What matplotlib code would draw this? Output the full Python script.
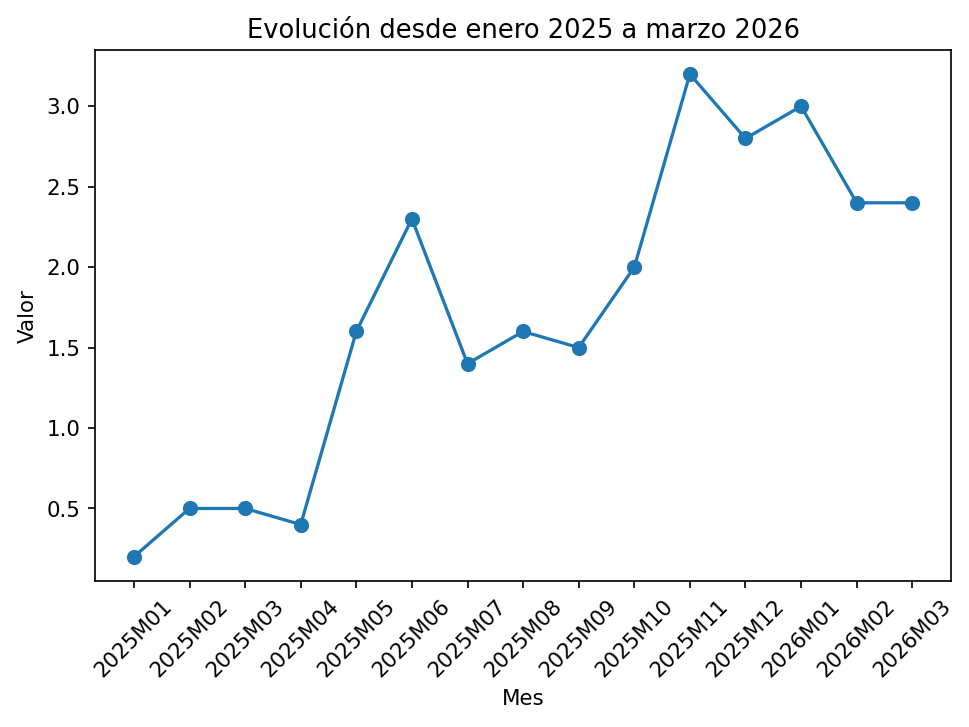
import matplotlib
matplotlib.use("Agg")
import matplotlib.pyplot as plt

meses = ["2025M01", "2025M02", "2025M03", "2025M04", "2025M05", "2025M06",
         "2025M07", "2025M08", "2025M09", "2025M10", "2025M11", "2025M12",
         "2026M01", "2026M02", "2026M03"]
valores = [0.2, 0.5, 0.5, 0.4, 1.6, 2.3, 1.4, 1.6, 1.5, 2.0, 3.2, 2.8, 3.0, 2.4, 2.4]

plt.rcParams['font.size'] = 10.2

fig, ax = plt.subplots(figsize=(6.4, 4.8), dpi=151.5)
ax.plot(meses, valores, marker='o', markersize=6.2, linewidth=1.55)
ax.set_title("Evolución desde enero 2025 a marzo 2026")
ax.set_xlabel("Mes")
ax.set_ylabel("Valor")
plt.xticks(rotation=45)
fig.subplots_adjust(left=0.098, right=0.981, top=0.931, bottom=0.201)
fig.savefig("out.png")
